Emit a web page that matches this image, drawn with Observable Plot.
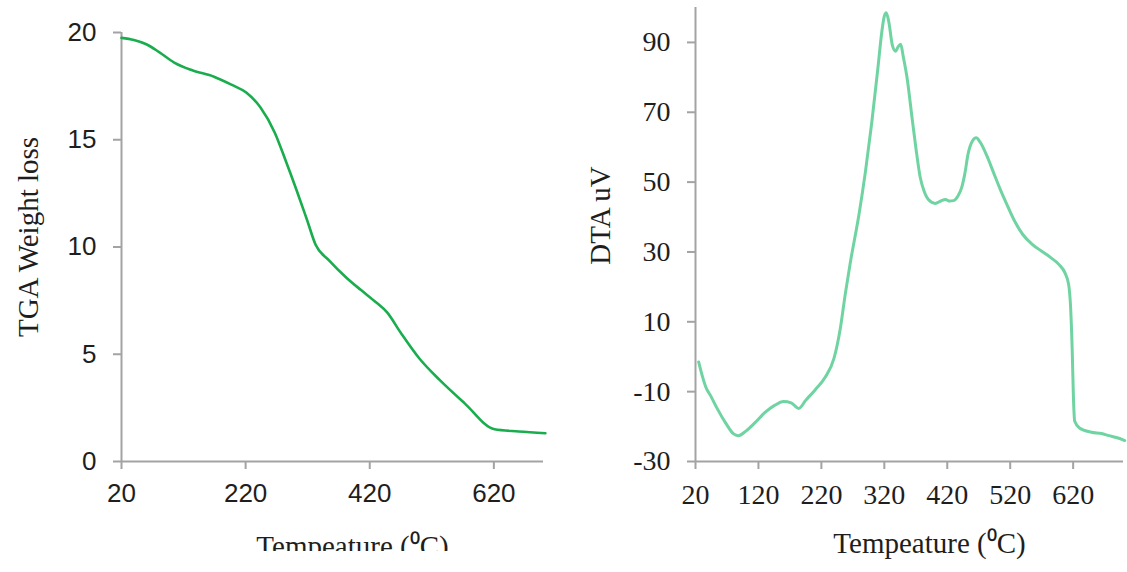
<!DOCTYPE html>
<html>
<head>
<meta charset="utf-8">
<script src="https://cdn.jsdelivr.net/npm/d3@7"></script>
<script src="https://cdn.jsdelivr.net/npm/@observablehq/plot@0.6"></script>
<style>
  html, body { margin: 0; padding: 0; background: #fff; overflow: hidden; }
  #wrap { display: flex; width: 1127px; height: 572px; }
  #left { width: 563px; height: 551px; overflow: hidden; }
  #right { width: 564px; height: 572px; }
  svg { display: block; }
</style>
</head>
<body>
<div id="wrap"><div id="left"></div><div id="right"></div></div>
<script>
// ---- TGA (left panel) ----
const tgaTemp   = [20, 40, 60, 80, 105, 134, 169, 197, 221, 244, 267, 284, 302, 319, 333, 354, 382, 406, 429, 448, 470, 500, 533, 573, 621, 660, 703];
const tgaWeight = [19.75, 19.65, 19.45, 19.1, 18.6, 18.24, 17.94, 17.57, 17.2, 16.5, 15.33, 14.07, 12.66, 11.26, 10.09, 9.39, 8.58, 7.99, 7.45, 6.95, 6.0, 4.8, 3.79, 2.71, 1.5, 1.4, 1.32];
const tgaXTicks = [20, 220, 420, 620];
const tgaYTicks = [0, 5, 10, 15, 20];
const tgaXLabel = "Tempeature (⁰C)";
const tgaYLabel = "TGA Weight loss";

// ---- DTA (right panel) ----
const dtaTemp  = [25, 30, 36, 45, 55, 68, 80, 88, 100, 115, 130, 145, 160, 172, 184, 195, 210, 226, 240, 250, 258, 266, 280, 290, 300, 310, 316, 320, 323, 327, 333, 338, 342, 346, 350, 356, 364, 370, 377, 383, 390, 401, 410, 417, 424, 430, 437, 443, 448, 453, 460, 466, 472, 483, 494, 504, 515, 528, 540, 555, 570, 585, 598, 607, 613, 616, 618.5, 620.5, 622.5, 630, 649, 665, 677, 690, 702];
const dtaValue = [-1.5, -5, -8.5, -11.5, -15, -19, -22, -22.6, -21.3, -18.8, -16, -14, -12.8, -13.2, -14.8, -12.5, -9.5, -5.9, -0.5, 8, 18, 27, 41, 53, 67, 83, 93, 97.5, 98.5, 96, 89, 87.5, 88.8, 89.5, 86, 80, 68.5, 60, 51.4, 47.5, 45, 43.9, 44.6, 45, 44.6, 44.7, 46, 48.5, 52.5, 58, 61.8, 62.7, 61.5, 57.5, 52.5, 48, 43.5, 38.5, 35, 32.2, 30.2, 28.3, 26.3, 24, 20.5, 14, 2, -12, -18.5, -20.4, -21.6, -22, -22.6, -23.2, -24];
const dtaXTicks = [20, 120, 220, 320, 420, 520, 620];
const dtaYTicks = [-30, -10, 10, 30, 50, 70, 90];
const dtaXLabel = "Tempeature (⁰C)";
const dtaYLabel = "DTA uV";

const tga = tgaTemp.map((t, i) => ({t, v: tgaWeight[i]}));
const dta = dtaTemp.map((t, i) => ({t, v: dtaValue[i]}));

const axisGray = "#a3a3a3";
const textColor = "#1e1e1e";
const serif = "'Liberation Serif', 'Times New Roman', serif";
const sans = "'Liberation Sans', Arial, sans-serif";
const fmt = d => String(d);

const left = Plot.plot({
  width: 563, height: 572,
  marginLeft: 121, marginRight: 20, marginTop: 32, marginBottom: 111,
  style: {fontFamily: sans, fontSize: "26px", color: textColor, background: "white", overflow: "visible"},
  x: {domain: [20, 700]},
  y: {domain: [0, 20]},
  marks: [
    Plot.ruleX([20], {stroke: axisGray, strokeWidth: 2}),
    Plot.ruleY([0], {stroke: axisGray, strokeWidth: 2}),
    Plot.axisX({ticks: tgaXTicks, tickFormat: fmt, tickSize: 8, tickPadding: 14, label: null, stroke: axisGray, strokeWidth: 2, color: textColor, fontSize: 26, fontFamily: sans}),
    Plot.axisY({ticks: tgaYTicks, tickFormat: fmt, tickSize: 8, tickPadding: 17, label: null, stroke: axisGray, strokeWidth: 2, color: textColor, fontSize: 26, fontFamily: sans}),
    Plot.line(tga, {x: "t", y: "v", stroke: "#1aad4e", strokeWidth: 2.6, curve: "monotone-x"}),
    Plot.text([tgaYLabel], {frameAnchor: "left", textAnchor: "middle", dx: -93, dy: -10, rotate: -90, fontSize: 29, fontFamily: serif, fill: textColor}),
    Plot.text([tgaXLabel], {frameAnchor: "bottom", dx: 20, dy: 94, fontSize: 29, fontFamily: serif, fill: textColor})
  ]
});
document.getElementById("left").appendChild(left);

const right = Plot.plot({
  width: 564, height: 572,
  marginLeft: 132, marginRight: 4, marginTop: 7, marginBottom: 111,
  style: {fontFamily: serif, fontSize: "28px", color: textColor, background: "white", overflow: "visible"},
  x: {domain: [20, 700]},
  y: {domain: [-30, 100]},
  marks: [
    Plot.ruleX([20], {stroke: axisGray, strokeWidth: 2}),
    Plot.ruleY([-30], {stroke: axisGray, strokeWidth: 2}),
    Plot.axisX({ticks: dtaXTicks, tickFormat: fmt, tickSize: 8, tickPadding: 15, label: null, stroke: axisGray, strokeWidth: 2, color: textColor, fontSize: 28, fontFamily: serif}),
    Plot.axisY({ticks: dtaYTicks, tickFormat: fmt, tickSize: 8, tickPadding: 17, label: null, stroke: axisGray, strokeWidth: 2, color: textColor, fontSize: 28, fontFamily: serif}),
    Plot.line(dta, {x: "t", y: "v", stroke: "#6fd4a1", strokeWidth: 3, curve: "monotone-x"}),
    Plot.text([dtaYLabel], {frameAnchor: "left", textAnchor: "middle", dx: -95, dy: -19, rotate: -90, fontSize: 29, fontFamily: serif, fill: textColor}),
    Plot.text([dtaXLabel], {frameAnchor: "bottom", dx: 20, dy: 91, fontSize: 29, fontFamily: serif, fill: textColor})
  ]
});
document.getElementById("right").appendChild(right);
</script>
</body>
</html>
